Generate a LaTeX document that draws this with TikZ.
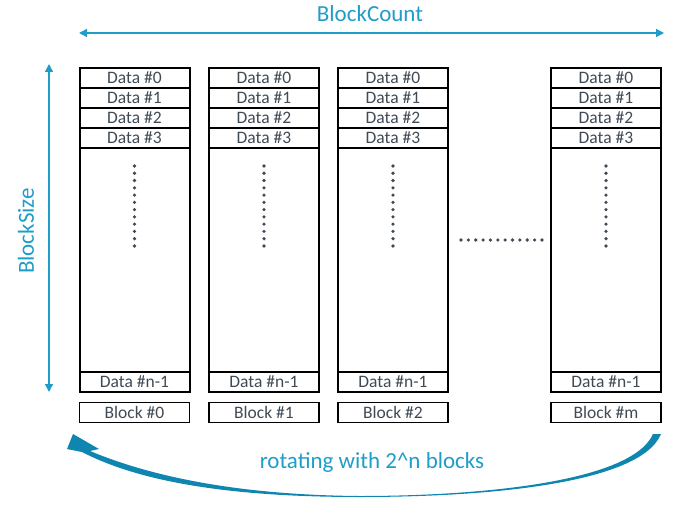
\documentclass[tikz,border=0pt]{standalone}
\usepackage{fontspec}
\setmainfont{Carlito}
\usetikzlibrary{shapes,positioning,arrows.meta}
\definecolor{blockblue}{HTML}{1F9DC9}
\definecolor{datagray}{HTML}{3F4A55}
\definecolor{rotdark}{HTML}{0F86B0}
\definecolor{rotlight}{HTML}{E4F3F9}
\newcommand{\datafont}{\fontsize{17.5}{17.5}\selectfont}
\newcommand{\titlefont}{\fontsize{23}{23}\selectfont}
\newcommand{\datacell}[1]{\rule[-3.7pt]{0pt}{18pt}#1}

\begin{document}
\begin{tikzpicture}[x=1pt,y=-1pt,
blk/.style = {draw, line width=2pt, rectangle split, rectangle split parts=6, minimum width=110pt, inner xsep=0pt, inner ysep=0pt, anchor=north, font=\datafont, text=datagray},
lbl/.style = {draw, line width=1.4pt, minimum width=110pt, minimum height=20pt, inner sep=0pt, font=\datafont, text=datagray},
title/.style = {text=blockblue, font=\titlefont, inner sep=0pt},
span/.style = {blockblue, line width=1.4pt, {Triangle[length=8pt,width=8pt]}-{Triangle[length=8pt,width=8pt]}}]
\useasboundingbox (0,0) rectangle (679,508);
\node[blk] (b0) at (134.5,67) {\datacell{Data \#0}\nodepart{two}\datacell{Data \#1}\nodepart{three}\datacell{Data \#2}\nodepart{four}\datacell{Data \#3}\nodepart{five}\rule{0pt}{222pt}\nodepart{six}\datacell{Data \#n-1}};
\node[blk] (b1) at (264,67) {\datacell{Data \#0}\nodepart{two}\datacell{Data \#1}\nodepart{three}\datacell{Data \#2}\nodepart{four}\datacell{Data \#3}\nodepart{five}\rule{0pt}{222pt}\nodepart{six}\datacell{Data \#n-1}};
\node[blk] (b2) at (393,67) {\datacell{Data \#0}\nodepart{two}\datacell{Data \#1}\nodepart{three}\datacell{Data \#2}\nodepart{four}\datacell{Data \#3}\nodepart{five}\rule{0pt}{222pt}\nodepart{six}\datacell{Data \#n-1}};
\node[blk] (bm) at (606,67) {\datacell{Data \#0}\nodepart{two}\datacell{Data \#1}\nodepart{three}\datacell{Data \#2}\nodepart{four}\datacell{Data \#3}\nodepart{five}\rule{0pt}{222pt}\nodepart{six}\datacell{Data \#n-1}};
\node[lbl, below=8.5pt of b0] (l0) {Block \#0};
\node[lbl, below=8.5pt of b1] (l1) {Block \#1};
\node[lbl, below=8.5pt of b2] (l2) {Block \#2};
\node[lbl, below=8.5pt of bm] (lm) {Block \#m};
\foreach \b in {b0,b1,b2,bm}
  \foreach \k in {0,...,11}
    \fill[datagray, shift={(\b.north)}] (0,99+7.27*\k) circle (1.8);
\foreach \k in {0,...,11}
  \fill[datagray] (461+7.36*\k,240) circle (1.8);
\coordinate (cl) at (79,33);
\coordinate (cr) at (664,33);
\draw[span] (cl) -- (cr);
\coordinate (st) at (49,64);
\coordinate (sb) at (49,392);
\draw[span] (st) -- (sb);
\node[title] (count) at (370,14) {BlockCount};
\node[title, rotate=90] (size) at (26,231) {BlockSize};
\node[title] (rot) at (372,462) {rotating with 2\textasciicircum n blocks};
\coordinate (rotR) at (661,434);
\coordinate (rotL) at (73,434);
\shade[left color=rotdark, middle color=rotlight, right color=rotdark]
  (rotR) .. controls (640,485) and (480,497) .. (360,497)
  .. controls (230,497) and (140,482) .. (82,452)
  -- (67,449) -- (rotL) -- (99,449) -- (90,451)
  .. controls (145,474) and (230,495) .. (360,496)
  .. controls (480,496) and (632,482) .. (653,434) -- cycle;
\end{tikzpicture}
\end{document}
